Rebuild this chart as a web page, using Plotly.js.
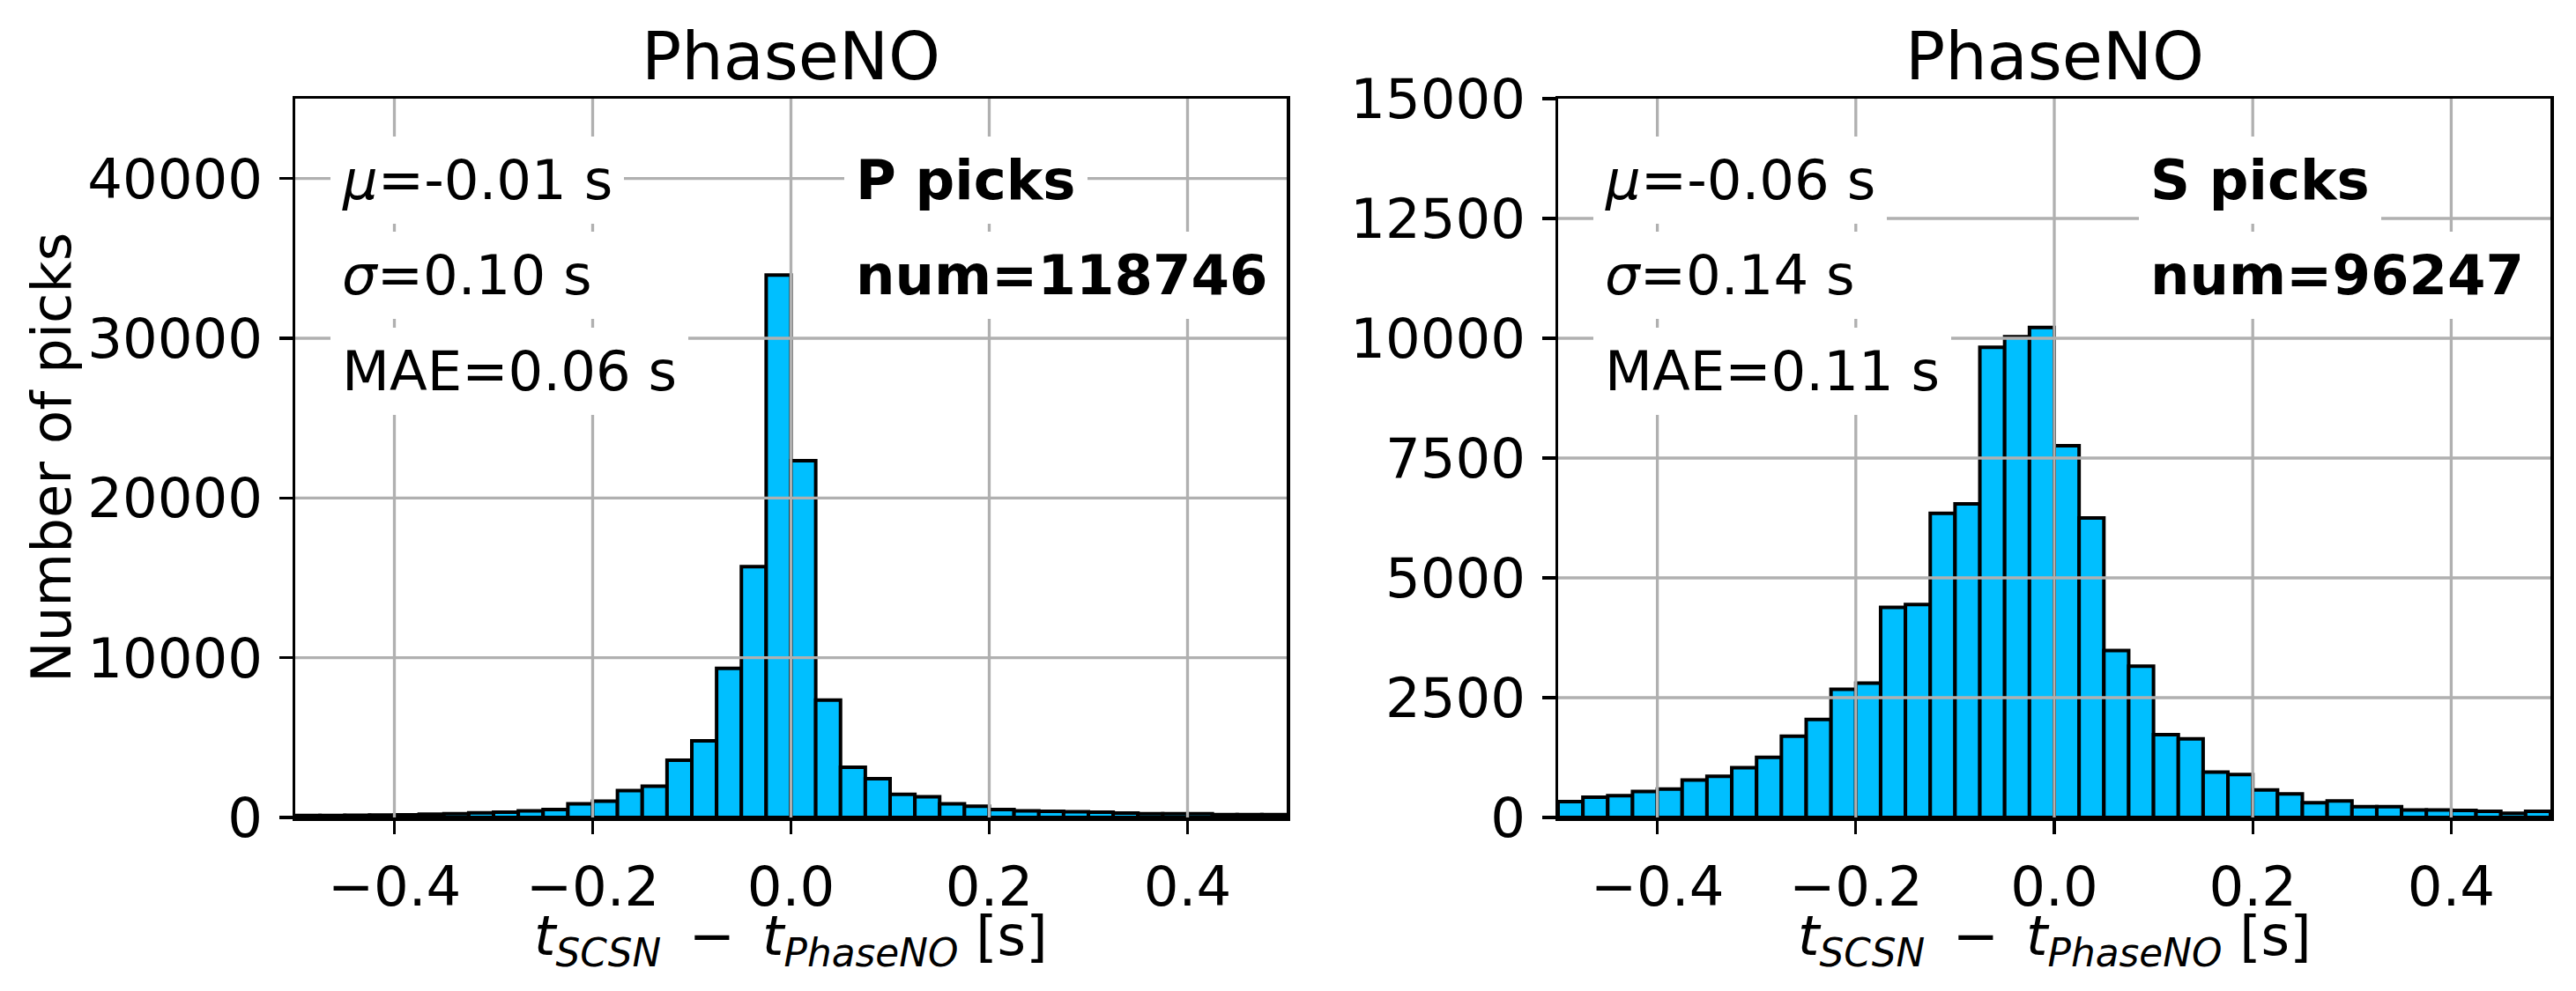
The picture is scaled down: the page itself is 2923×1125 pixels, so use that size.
<!DOCTYPE html>
<html><head><meta charset="utf-8">
<script src="https://cdn.plot.ly/plotly-3.0.1.min.js"></script>
<style>html,body{margin:0;padding:0;background:#fff;} #chart{width:2923px;height:1125px;}</style>
</head><body><div id="chart"></div>
<script>
// ---- data ----
const binStart = -0.5;
const binWidth = 0.025;
const pCounts = [120,130,140,150,170,200,240,290,330,420,490,850,1020,1680,1960,3585,4800,9330,15700,33950,22340,7350,3140,2430,1450,1300,860,710,500,415,385,355,325,270,240,240,240,180,180,180];
const sCounts = [330,425,454,543,592,780,859,1037,1254,1698,2043,2675,2804,4383,4442,6347,6545,9813,10030,10227,7759,6249,3485,3159,1728,1639,948,898,573,494,306,345,227,227,158,158,148,128,89,128];
const xTicks = [-0.4,-0.2,0.0,0.2,0.4];
const pYTicks = [0,10000,20000,30000,40000];
const sYTicks = [0,2500,5000,7500,10000,12500,15000];
const xRange = [-0.5,0.5];
const pYRange = [0,45000];
const sYRange = [0,15000];
const panelTitles = ['PhaseNO','PhaseNO'];
const pStats = ['<i>μ</i>=-0.01 s','<i>σ</i>=0.10 s','MAE=0.06 s'];
const sStats = ['<i>μ</i>=-0.06 s','<i>σ</i>=0.14 s','MAE=0.11 s'];
const pInfo = ['P picks','num=118746'];
const sInfo = ['S picks','num=96247'];
const xLabel = '<i>t</i><sub><i>SCSN</i></sub>\u2002−\u2002<i>t</i><sub><i>PhaseNO</i></sub> [s]';
const yLabel = 'Number of picks';

// ---- styling ----
const FONT = 'DejaVu Sans';
const FS = 62.5;
const W = 2923, H = 1125;
const centers = c => c.map((_, i) => binStart + (i + 0.5) * binWidth);

function bar(counts, xa, ya) {
  return {type:'bar', x:centers(counts), y:counts, width:binWidth, xaxis:xa, yaxis:ya,
    marker:{color:'#00BFFF', line:{color:'black', width:4}}, showlegend:false, hoverinfo:'skip'};
}
function xAxis(domain, anchor) {
  return {domain, anchor, range:xRange, tickmode:'array', tickvals:xTicks, tickformat:'.1f',
    ticks:'outside', ticklen:15, tickwidth:3.3, tickcolor:'black', ticklabelstandoff:6,
    showline:true, linecolor:'black', linewidth:3.5, mirror:true, showgrid:false, zeroline:false,
    tickfont:{family:FONT, size:FS, color:'black'}, fixedrange:true};
}
function yAxis(domain, anchor, range, ticks) {
  return {domain, anchor, range, tickmode:'array', tickvals:ticks, tickformat:'d',
    ticks:'outside', ticklen:15, tickwidth:3.3, tickcolor:'black', ticklabelstandoff:6,
    showline:true, linecolor:'black', linewidth:3.5, mirror:true, showgrid:false, zeroline:false,
    tickfont:{family:FONT, size:FS, color:'black'}, fixedrange:true};
}
const yDom = [1 - 928/H, 1 - 112/H];
const layout = {
  width:W, height:H, margin:{l:0,r:0,t:0,b:0}, paper_bgcolor:'white', plot_bgcolor:'white',
  bargap:0, showlegend:false,
  xaxis: xAxis([335/W, 1460/W], 'y'),
  yaxis: yAxis(yDom, 'x', pYRange, pYTicks),
  xaxis2: xAxis([1768/W, 2894/W], 'y2'),
  yaxis2: yAxis(yDom, 'x2', sYRange, sYTicks),
  shapes: [], annotations: []
};
const grid = {color:'#b0b0b0', width:3.3};
[['x','y',pYTicks,pYRange],['x2','y2',sYTicks,sYRange]].forEach(([xa,ya,yt,yr]) => {
  xTicks.forEach(v => layout.shapes.push({type:'line', layer:'above', xref:xa, yref:ya+' domain', x0:v, x1:v, y0:0, y1:1, line:grid}));
  yt.filter(v => v > yr[0] && v < yr[1]).forEach(v => layout.shapes.push({type:'line', layer:'above', xref:xa+' domain', yref:ya, x0:0, x1:1, y0:v, y1:v, line:grid}));
});
const rowY = [0.8866, 0.7549, 0.6207];
function box(text, xa, ya, x, y) {
  return {text, xref:xa+' domain', yref:ya+' domain', x, y, xanchor:'left', yanchor:'middle',
    showarrow:false, bgcolor:'white', borderpad:13, borderwidth:0, font:{family:FONT, size:FS, color:'black'}};
}
pStats.forEach((t,i) => layout.annotations.push(box(t,'x','y',0.0356,rowY[i])));
sStats.forEach((t,i) => layout.annotations.push(box(t,'x2','y2',0.0355,rowY[i])));
pInfo.forEach((t,i) => layout.annotations.push(box('<b>'+t+'</b>','x','y',0.5538,rowY[i])));
sInfo.forEach((t,i) => layout.annotations.push(box('<b>'+t+'</b>','x2','y2',0.585,rowY[i])));
['x','x2'].forEach((xa,i) => {
  layout.annotations.push({text:panelTitles[i], xref:xa+' domain', yref:'paper', x:0.5, y:1-64/H,
    xanchor:'center', yanchor:'middle', showarrow:false, font:{family:FONT, size:75, color:'black'}});
  layout.annotations.push({text:xLabel, xref:xa+' domain', yref:'paper', x:0.5, y:1-1066/H,
    xanchor:'center', yanchor:'middle', showarrow:false, font:{family:FONT, size:FS, color:'black'}});
});
layout.annotations.push({text:yLabel, xref:'paper', yref:'y domain', x:58/W, y:0.5, textangle:-90,
  xanchor:'center', yanchor:'middle', showarrow:false, font:{family:FONT, size:FS, color:'black'}});

Plotly.newPlot('chart', [bar(pCounts,'x','y'), bar(sCounts,'x2','y2')], layout, {staticPlot:true, displayModeBar:false});
</script>
</body></html>
